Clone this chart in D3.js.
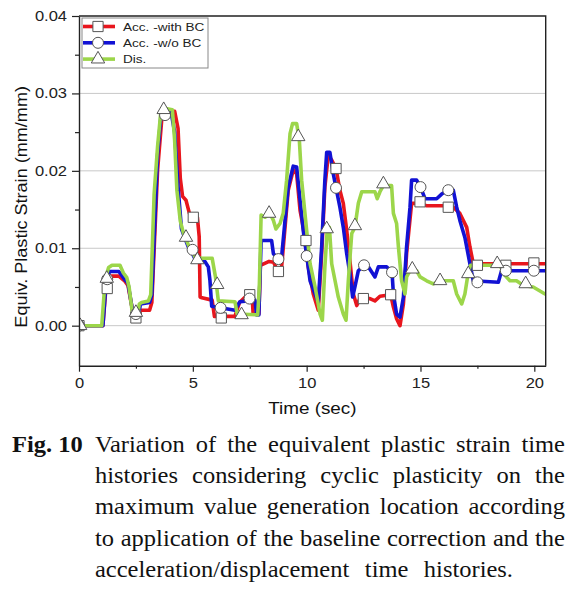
<!DOCTYPE html>
<html><head><meta charset="utf-8">
<script src="https://cdn.jsdelivr.net/npm/d3@7"></script>
<style>body{margin:0;background:#fff}svg{display:block}</style>
</head><body>
<svg id="c" width="580" height="591"></svg>
<script>
// ---- data (time in sec, equivalent plastic strain in mm/mm) ----
const seriesNames = ["Acc. -with BC", "Acc. -w/o BC", "Dis."];
const xTicks = [0, 5, 10, 15, 20];
const xMinor = [2.5, 7.5, 12.5, 17.5];
const yTicks = [0, 0.01, 0.02, 0.03, 0.04];
const yMinor = [0.005, 0.015, 0.025, 0.035];

const redSeries = [[0,0],[1.05,0],[1.2,0.0055],[1.35,0.0064],[1.75,0.0064],[2.0,0.0058],[2.15,0.0052],[2.35,0.002],[2.5,0.001],[2.62,0.0012],[2.7,0.002],[3.1,0.002],[3.2,0.003],[3.45,0.02],[3.65,0.0272],[4.2,0.0277],[4.35,0.0255],[4.45,0.019],[4.55,0.0167],[4.7,0.0162],[4.85,0.0145],[5.2,0.014],[5.28,0.0115],[5.32,0.0037],[5.4,0.0036],[5.85,0.0033],[5.95,0.0012],[6.85,0.0012],[7.05,0.003],[7.4,0.004],[7.6,0.004],[7.65,0.0015],[7.9,0.0015],[7.97,0.0078],[8.35,0.0083],[8.55,0.0082],[8.7,0.0072],[8.9,0.0076],[9.05,0.0127],[9.19,0.0175],[9.41,0.0201],[9.56,0.0196],[9.71,0.0149],[9.85,0.0127],[10.07,0.0076],[10.29,0.0041],[10.51,0.002],[10.66,0.0093],[10.8,0.0179],[10.95,0.022],[11.1,0.0214],[11.29,0.0203],[11.46,0.0175],[11.61,0.0158],[11.76,0.0123],[11.9,0.0084],[12.05,0.0041],[12.2,0.0026],[12.34,0.0035],[12.78,0.0035],[13.0,0.0032],[13.22,0.0038],[13.69,0.004],[13.81,0.0024],[13.95,0.0009],[14.1,0.0],[14.25,0.0028],[14.39,0.0093],[14.61,0.0158],[14.83,0.0158],[15.27,0.0155],[16.0,0.0155],[16.22,0.0154],[16.44,0.0153],[16.73,0.0145],[17.03,0.0127],[17.17,0.0102],[17.32,0.008],[20.47,0.008]];

const blueSeries = [[0,0],[1.05,0],[1.2,0.006],[1.35,0.007],[1.75,0.007],[2.0,0.006],[2.15,0.0055],[2.35,0.002],[2.5,0.0012],[2.62,0.0015],[2.7,0.0028],[3.1,0.003],[3.2,0.004],[3.45,0.022],[3.6,0.0272],[4.05,0.0275],[4.2,0.025],[4.35,0.018],[4.5,0.0125],[4.65,0.0113],[4.8,0.0102],[4.95,0.0095],[5.1,0.0086],[5.53,0.0083],[5.68,0.0076],[5.75,0.0059],[5.83,0.0025],[6.85,0.002],[7.07,0.0031],[7.73,0.0033],[7.8,0.0014],[7.9,0.0014],[8.0,0.011],[8.46,0.011],[8.54,0.0093],[8.76,0.0086],[8.9,0.0089],[9.05,0.0136],[9.19,0.0179],[9.41,0.0206],[9.56,0.0205],[9.71,0.0162],[9.85,0.0123],[10.0,0.0091],[10.15,0.0058],[10.37,0.0041],[10.51,0.003],[10.66,0.0102],[10.8,0.0188],[10.88,0.0224],[11.02,0.0224],[11.17,0.0196],[11.29,0.0178],[11.46,0.0153],[11.61,0.0127],[11.76,0.0093],[11.9,0.0067],[12.02,0.0037],[12.12,0.005],[12.27,0.0071],[12.52,0.0078],[12.71,0.0076],[13.0,0.0063],[13.15,0.0076],[13.51,0.0076],[13.75,0.0069],[13.81,0.0041],[13.95,0.0015],[14.1,0.0011],[14.25,0.0037],[14.39,0.0102],[14.54,0.0153],[14.61,0.0188],[14.83,0.0188],[15.0,0.0179],[15.2,0.0164],[15.71,0.0164],[15.93,0.017],[16.22,0.0175],[16.44,0.0175],[16.59,0.0153],[16.73,0.0136],[16.95,0.0114],[17.17,0.008],[17.32,0.0058],[18.42,0.0056],[18.56,0.0071],[20.47,0.0071]];

const greenSeries = [[0,0],[1.0,0],[1.15,0.006],[1.3,0.0075],[1.45,0.0078],[1.8,0.0078],[1.95,0.0068],[2.1,0.0062],[2.2,0.005],[2.35,0.0015],[2.45,0.0006],[2.55,0.0008],[2.65,0.0028],[2.75,0.003],[3.05,0.0032],[3.15,0.004],[3.3,0.017],[3.45,0.0231],[3.6,0.0278],[3.7,0.0281],[4.1,0.0279],[4.2,0.024],[4.3,0.0175],[4.45,0.0135],[4.6,0.0118],[4.75,0.0108],[4.85,0.0101],[5.0,0.0094],[5.1,0.0088],[5.4,0.0087],[5.85,0.0087],[6.0,0.0062],[6.12,0.0032],[6.85,0.0031],[6.95,0.0015],[7.85,0.0014],[7.92,0.005],[8.0,0.0143],[8.17,0.014],[8.39,0.0145],[8.54,0.0136],[8.65,0.0125],[8.83,0.0132],[8.97,0.0145],[9.12,0.0188],[9.27,0.0248],[9.38,0.0261],[9.56,0.0261],[9.68,0.0239],[9.78,0.0188],[10.0,0.0123],[10.15,0.008],[10.37,0.005],[10.59,0.0015],[10.69,0.0007],[10.8,0.0076],[10.91,0.0127],[11.0,0.0127],[11.1,0.008],[11.39,0.0037],[11.61,0.0015],[11.73,0.0007],[11.83,0.0058],[11.98,0.0119],[12.12,0.0127],[12.27,0.0158],[12.42,0.0173],[13.0,0.0173],[13.1,0.0164],[13.22,0.0173],[13.37,0.0181],[13.73,0.0181],[13.81,0.0145],[13.95,0.0132],[14.03,0.0102],[14.17,0.0058],[14.32,0.0041],[14.39,0.0063],[14.54,0.0071],[14.83,0.0071],[14.98,0.0063],[15.27,0.0058],[15.56,0.0054],[15.86,0.0058],[16.44,0.0058],[16.59,0.0041],[16.81,0.0028],[16.95,0.0041],[17.1,0.0069],[17.2,0.0078],[18.49,0.0078],[18.71,0.0065],[18.93,0.0058],[19.22,0.0058],[19.52,0.0052],[19.95,0.005],[20.47,0.0041]];

const squareMarks = [[0,0],[1.24,0.0048],[2.5,0.001],[5.02,0.014],[6.25,0.001],[7.5,0.004],[8.76,0.007],[9.97,0.011],[11.29,0.0203],[12.49,0.0035],[13.69,0.004],[14.98,0.016],[16.22,0.0153],[17.5,0.0078],[18.75,0.0078],[19.98,0.0081]];
const circleMarks = [[0,0],[1.24,0.006],[2.5,0.0015],[3.78,0.0272],[4.99,0.0098],[6.22,0.0023],[7.49,0.0035],[8.76,0.0086],[10.0,0.009],[11.29,0.0178],[12.52,0.0078],[13.75,0.0069],[15.0,0.0179],[16.22,0.0175],[17.5,0.0056],[18.75,0.0071],[19.98,0.0071]];
const triangleMarks = [[0.05,0],[1.22,0.0061],[2.5,0.0017],[3.72,0.0279],[4.7,0.0114],[5.2,0.0085],[6.07,0.0053],[7.14,0.0014],[8.35,0.0145],[9.63,0.0244],[10.88,0.0125],[12.12,0.0129],[13.37,0.0183],[14.64,0.0073],[15.86,0.0058],[17.1,0.0067],[18.37,0.008],[19.62,0.0054]];

const captionHead = "Fig. 10";
const captionLines = [
  "Variation of the equivalent plastic strain time",
  "histories considering cyclic plasticity on the",
  "maximum value generation location according",
  "to application of the baseline correction and the",
  "acceleration/displacement time histories."
];

// ---- layout ----
const L = 79, R = 545.7, T = 16, B = 365.7;
const SANS = "'Liberation Sans', Arial, sans-serif";
const SERIF = "'Liberation Serif', 'Times New Roman', serif";
const SX = 1.18;
const colors = ["#e8161d", "#1212d4", "#9cd64a"];

const svg = d3.select("#c");
const x = d3.scaleLinear().domain([0, 20.5]).range([L, R]);
const y = d3.scaleLinear().domain([-0.00517, 0.04]).range([B, T]);

svg.append("defs").append("clipPath").attr("id", "pc")
  .append("rect").attr("x", L).attr("y", T).attr("width", R - L).attr("height", B - T);

// grid
svg.append("g").selectAll("line").data(yTicks.slice(0, 4)).join("line")
  .attr("x1", L).attr("x2", R).attr("y1", d => y(d)).attr("y2", d => y(d))
  .attr("stroke", "#c8c8c8").attr("stroke-width", 1);

// lines
const line = d3.line().x(d => x(d[0])).y(d => y(d[1]));
const plot = svg.append("g").attr("clip-path", "url(#pc)");
[redSeries, blueSeries, greenSeries].forEach((s, i) => {
  plot.append("path").datum(s).attr("d", line).attr("fill", "none")
    .attr("stroke", colors[i]).attr("stroke-width", 3.6)
    .attr("stroke-linejoin", "round").attr("stroke-linecap", "round");
});

// markers
const symSquare = d3.symbol().type(d3.symbolSquare).size(105);
const symCircle = d3.symbol().type(d3.symbolCircle).size(95);
const symTri = d3.symbol().type(d3.symbolTriangle).size(78);
function drawMarks(data, sym) {
  plot.append("g").selectAll("path").data(data).join("path")
    .attr("transform", d => `translate(${x(d[0])},${y(d[1])})`)
    .attr("d", sym).attr("fill", "#fff").attr("stroke", "#555").attr("stroke-width", 1);
}
drawMarks(squareMarks, symSquare);
drawMarks(circleMarks, symCircle);
drawMarks(triangleMarks, symTri);

// axes
function styleAxis(g) {
  g.select(".domain").attr("stroke", "#222").attr("stroke-width", 1.4);
  g.selectAll(".tick line").attr("stroke", "#222").attr("stroke-width", 1.2);
  g.selectAll(".tick text").attr("fill", "#222").style("font-family", SANS).style("font-size", "14px");
}
const gx = svg.append("g").attr("transform", `translate(0,${B})`)
  .call(d3.axisBottom(x).tickValues(xTicks).tickSize(6).tickPadding(6).tickSizeOuter(0).tickFormat(d3.format("d")));
styleAxis(gx);
gx.selectAll(".tick text").attr("transform", `scale(${SX},1)`);
const gxm = svg.append("g").attr("transform", `translate(0,${B})`)
  .call(d3.axisBottom(x).tickValues(xMinor).tickSize(3).tickFormat(""));
styleAxis(gxm); gxm.select(".domain").remove();

const gy = svg.append("g").attr("transform", `translate(${L},0)`)
  .call(d3.axisLeft(y).tickValues(yTicks).tickSize(7).tickPadding(5).tickSizeOuter(0).tickFormat(d3.format(".2f")));
styleAxis(gy);
gy.selectAll(".tick text").attr("transform", `scale(${SX},1)`).attr("x", -12 / SX);
const gym = svg.append("g").attr("transform", `translate(${L},0)`)
  .call(d3.axisLeft(y).tickValues(yMinor).tickSize(4).tickFormat(""));
styleAxis(gym); gym.select(".domain").remove();

// frame top/right
svg.append("path").attr("d", `M${L},${T}H${R}V${B}`).attr("fill", "none")
  .attr("stroke", "#222").attr("stroke-width", 1.4);

// axis titles
svg.append("text").attr("transform", `translate(${(L + R) / 2},414) scale(${SX},1)`)
  .attr("text-anchor", "middle").style("font-family", SANS).style("font-size", "16px")
  .attr("fill", "#111").text("Time (sec)");
svg.append("text").attr("transform", `translate(27,${(T + B) / 2 + 16}) rotate(-90) scale(1.13,1)`)
  .attr("text-anchor", "middle").style("font-family", SANS).style("font-size", "16px")
  .attr("fill", "#111").text("Equiv. Plastic Strain (mm/mm)");

// legend
const lg = svg.append("g");
lg.append("rect").attr("x", 82).attr("y", 18).attr("width", 126).attr("height", 50)
  .attr("fill", "#fff").attr("stroke", "#888").attr("stroke-width", 1);
const syms = [symSquare, symCircle, symTri];
seriesNames.forEach((nm, i) => {
  const yy = 26.5 + i * 16.3;
  lg.append("line").attr("x1", 83).attr("x2", 115).attr("y1", yy).attr("y2", yy)
    .attr("stroke", colors[i]).attr("stroke-width", 3.6);
  lg.append("path").attr("transform", `translate(98,${yy})`).attr("d", syms[i])
    .attr("fill", "#fff").attr("stroke", "#555").attr("stroke-width", 1);
  lg.append("text").attr("transform", `translate(123,${yy + 4.2}) scale(${SX},1)`)
    .style("font-family", SANS).style("font-size", "11.5px").attr("fill", "#222").text(nm);
});

// caption (justified)
const CSX = 1.065, CFS = 23;
svg.append("text").attr("transform", `translate(12,452) scale(${CSX},1)`)
  .style("font-family", SERIF).style("font-size", CFS + "px").style("font-weight", "bold")
  .attr("fill", "#111").text(captionHead);
const leftX = 95, rightEdges = [565, 565, 565, 565, 513];
captionLines.forEach((ln, i) => {
  const by = 452 + i * 31.2;
  const words = ln.split(" ");
  const nodes = words.map(w => svg.append("text").style("font-family", SERIF)
    .style("font-size", CFS + "px").attr("fill", "#111").text(w));
  const widths = nodes.map(n => n.node().getComputedTextLength() * CSX);
  const total = d3.sum(widths);
  const gap = (rightEdges[i] - leftX - total) / (words.length - 1);
  let cx = leftX;
  nodes.forEach((n, k) => {
    n.attr("transform", `translate(${cx},${by}) scale(${CSX},1)`);
    cx += widths[k] + gap;
  });
});
</script>
</body></html>
